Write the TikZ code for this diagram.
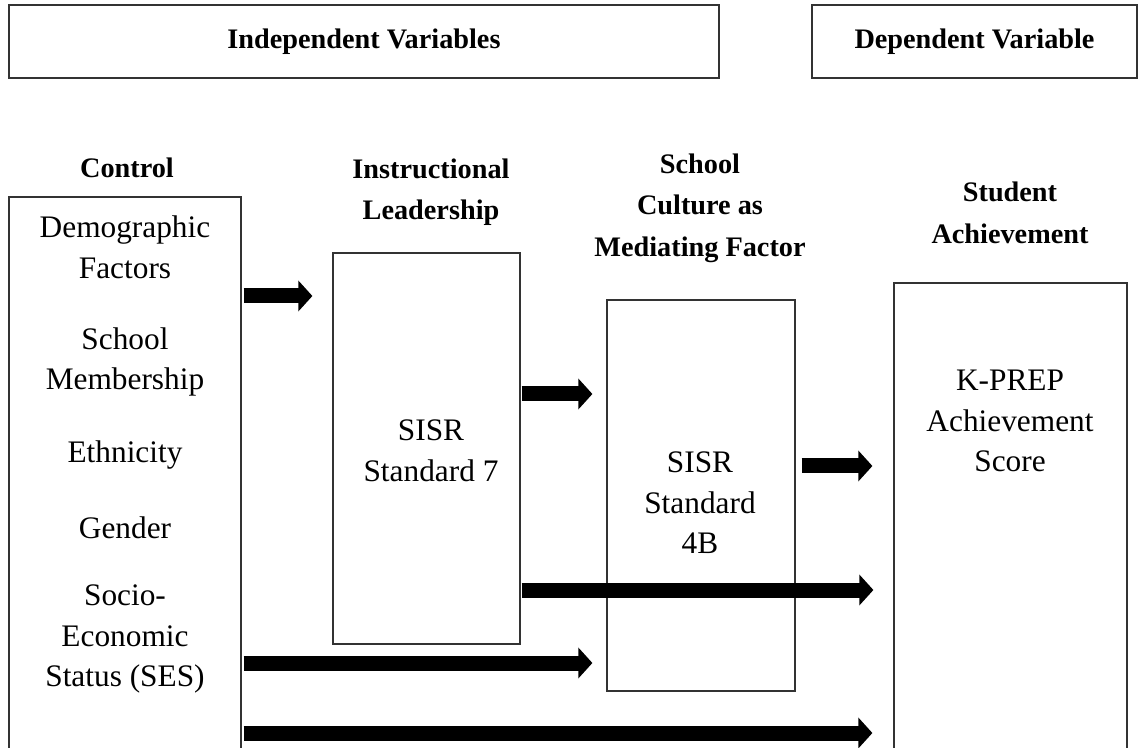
\documentclass[tikz,border=0pt]{standalone}
\usepackage{fontspec}
\setmainfont{Liberation Serif}
\usetikzlibrary{arrows.meta,calc,fit}
\begin{document}
\begin{tikzpicture}[x=0.75pt,y=-0.75pt,
  box/.style={draw=black!80, line width=0.9pt, inner sep=0pt},
  hdr/.style={font=\fontsize{21.2}{31}\selectfont\bfseries, align=center, inner sep=0pt},
  txt/.style={font=\fontsize{23.5}{30.5}\selectfont, align=center, inner sep=0pt},
  fat/.style={line width=11.25pt, -{Triangle[width=22.5pt,length=10.5pt]}}
]
\useasboundingbox (0,0) rectangle (1139,748);
\clip (0,0) rectangle (1139,748);
% header boxes
\node[box, fit={(9,5) (719,78)}] (indep) {};
\node[box, fit={(812,5) (1137,78)}] (dep) {};
\node[hdr] (indeplbl) at (indep.center) {Independent Variables};
\node[hdr] (deplbl) at (dep.center) {Dependent Variable};
% main boxes
\node[box, fit={(9,197) (241,770)}] (ctrl) {};
\node[box, fit={(333,253) (520,644)}] (instr) {};
\node[box, fit={(607,300) (795,691)}] (cult) {};
\node[box, fit={(894,283) (1127,770)}] (ach) {};
% column headings
\node[hdr] (h1) at (127,168) {Control};
\node[hdr] (h2) at (431,192) {Instructional\\Leadership};
\node[hdr] (h3) at (700,208) {School\\Culture as\\Mediating Factor};
\node[hdr] (h4) at (1010,213) {Student\\Achievement};
% box contents
\node[txt] (c1) at (125,247) {Demographic\\Factors};
\node[txt] (c2) at (125,362) {School\\Membership};
\node[txt] (c3) at (125,455) {Ethnicity};
\node[txt] (c4) at (125,528) {Gender};
\node[txt] (c5) at (125,639) {Socio-\\Economic\\Status (SES)};
\node[txt] (i1) at (431,451) {SISR\\Standard 7};
\node[txt] (m1) at (700,503) {SISR\\Standard\\4B};
\node[txt] (a1) at (1010,421) {K-PREP\\Achievement\\Score};
% arrow rows
\coordinate (r1) at (0,296);
\coordinate (r2) at (0,394);
\coordinate (r3) at (0,466);
\coordinate (r4) at (0,590);
\coordinate (r5) at (0,663);
\coordinate (r6) at (0,733);
% arrows
\draw[fat] ($(ctrl.east|-r1)+(2,0)$) -- ($(instr.west|-r1)+(-20,0)$);
\draw[fat] ($(instr.east|-r2)+(1,0)$) -- ($(cult.west|-r2)+(-14,0)$);
\draw[fat] ($(cult.east|-r3)+(6,0)$) -- ($(ach.west|-r3)+(-21,0)$);
\draw[fat] ($(instr.east|-r4)+(1,0)$) -- ($(ach.west|-r4)+(-20,0)$);
\draw[fat] ($(ctrl.east|-r5)+(2,0)$) -- ($(cult.west|-r5)+(-14,0)$);
\draw[fat] ($(ctrl.east|-r6)+(2,0)$) -- ($(ach.west|-r6)+(-21,0)$);
\end{tikzpicture}
\end{document}
